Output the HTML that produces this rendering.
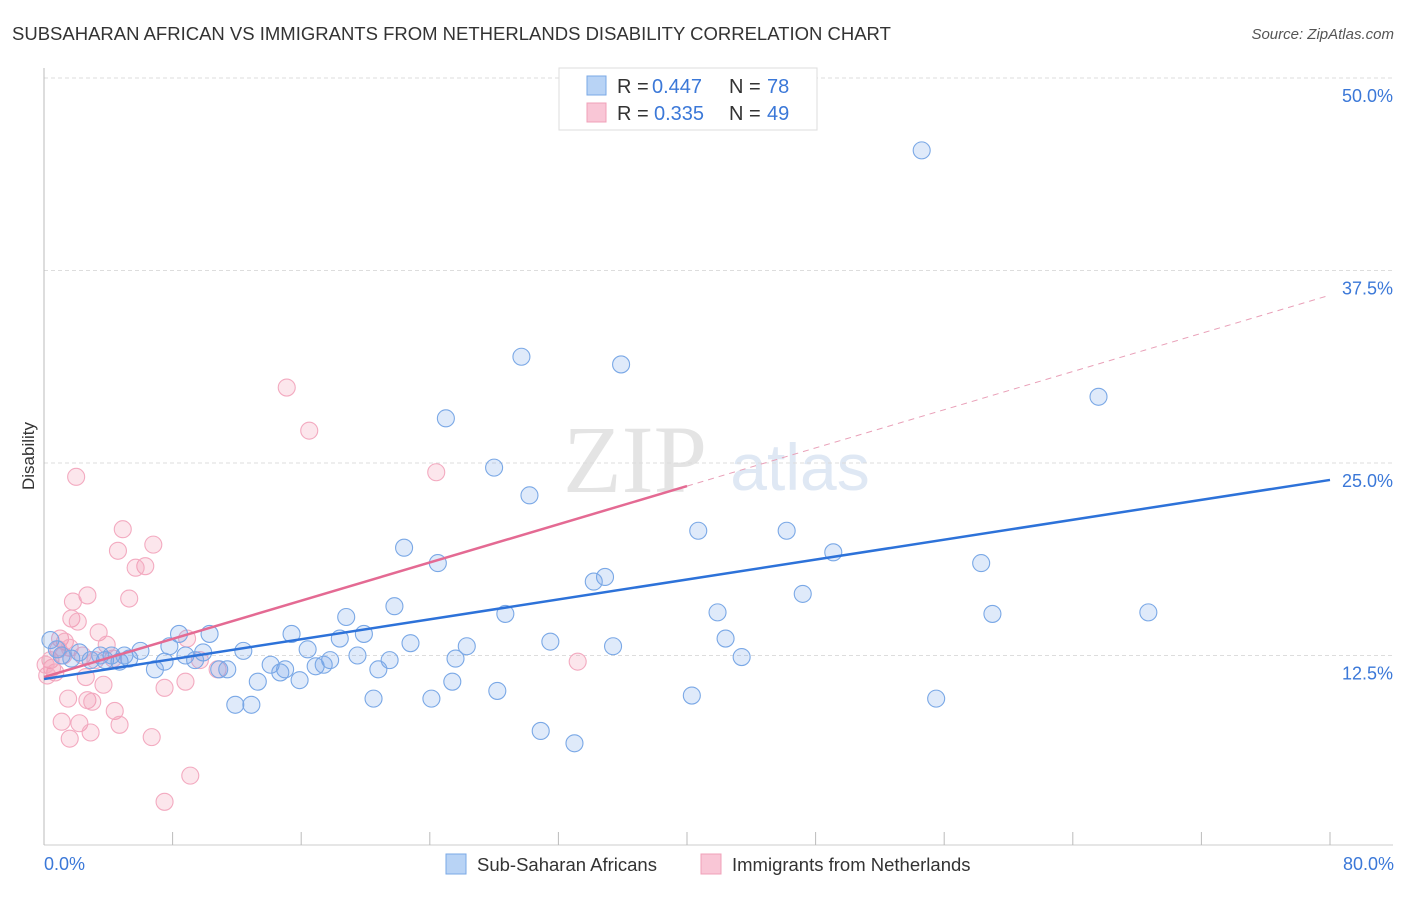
<!DOCTYPE html>
<html><head><meta charset="utf-8"><style>
body{margin:0;background:#fff;font-family:"Liberation Sans",sans-serif}
</style></head><body>
<svg id="c" width="1406" height="892" xmlns="http://www.w3.org/2000/svg" style="font-family:'Liberation Sans',sans-serif">
<text x="12" y="40" font-size="18.5" fill="#333">SUBSAHARAN AFRICAN VS IMMIGRANTS FROM NETHERLANDS DISABILITY CORRELATION CHART</text>
<text x="1394" y="39" font-size="15" fill="#555" font-style="italic" text-anchor="end">Source: ZipAtlas.com</text>
<text x="635" y="492" font-size="96" fill="#e4e4e4" font-family="Liberation Serif" text-anchor="middle">ZIP</text>
<text x="800" y="490" font-size="66" fill="#dfe8f4" text-anchor="middle">atlas</text>
<g id="grid"></g><g id="axes"></g><g id="pink"></g><g id="blue"></g><g id="lines"></g>
<text transform="translate(34,456) rotate(-90)" font-size="17" fill="#333" text-anchor="middle">Disability</text>
<text x="44" y="870" font-size="18" fill="#3b78d8">0.0%</text>
<text x="1394" y="870" font-size="18" fill="#3b78d8" text-anchor="end">80.0%</text>
<g>
<rect x="559" y="68" width="258" height="62" fill="#fff" stroke="#ddd"/>
<rect x="587" y="76" width="19" height="19" fill="#b8d3f5" stroke="#7aa8e6"/>
<rect x="587" y="103" width="19" height="19" fill="#f9c6d6" stroke="#f0a0b8"/>
<text y="93" font-size="20" fill="#333"><tspan x="617">R =</tspan><tspan x="652" fill="#3b78d8">0.447</tspan><tspan x="729">N =</tspan><tspan x="767" fill="#3b78d8">78</tspan></text>
<text y="120" font-size="20" fill="#333"><tspan x="617">R =</tspan><tspan x="654" fill="#3b78d8">0.335</tspan><tspan x="729">N =</tspan><tspan x="767" fill="#3b78d8">49</tspan></text>
</g>
<g>
<rect x="446" y="854" width="20" height="20" fill="#b8d3f5" stroke="#7aa8e6"/>
<text x="477" y="871" font-size="18.5" fill="#333">Sub-Saharan Africans</text>
<rect x="701" y="854" width="20" height="20" fill="#f9c6d6" stroke="#f0a0b8"/>
<text x="732" y="871" font-size="18.5" fill="#333">Immigrants from Netherlands</text>
</g>
</svg>
<script>
const yTicks=[50,37.5,25,12.5];
const yTickLabels=["50.0%","37.5%","25.0%","12.5%"];
const xTicks=[0,8,16,24,32,40,48,56,64,72,80];
const blueX=[54.6,29.7,35.9,65.6,25.0,28.0,30.2,40.7,46.2,22.4,49.1,24.5,58.3,34.9,34.2,47.2,21.8,41.9,59.0,68.7,28.7,18.8,8.4,10.3,15.4,19.9,18.4,42.4,31.5,22.8,26.3,35.4,7.8,6.0,16.4,12.4,9.9,8.8,19.5,43.4,25.6,21.5,17.8,5.3,3.8,4.7,2.9,1.1,1.7,0.4,0.8,2.2,4.2,14.1,16.9,17.4,15.0,14.7,7.5,6.9,11.4,10.9,20.8,13.3,15.9,25.4,28.2,40.3,55.5,20.5,24.1,11.9,12.9,30.9,33.0,9.4,3.5,5.0];
const blueY=[45.3,31.9,31.4,29.3,27.9,24.7,22.9,20.6,20.6,19.5,19.2,18.5,18.5,17.6,17.3,16.5,15.7,15.3,15.2,15.3,15.2,15.0,13.9,13.9,13.9,13.9,13.6,13.6,13.4,13.3,13.1,13.1,13.1,12.8,12.9,12.8,12.7,12.5,12.5,12.4,12.3,12.2,12.2,12.3,12.2,12.1,12.2,12.5,12.3,13.5,12.9,12.7,12.5,11.9,11.8,11.9,11.6,11.4,12.1,11.6,11.6,11.6,11.6,10.8,10.9,10.8,10.2,9.9,9.7,9.7,9.7,9.3,9.3,7.6,6.8,12.2,12.5,12.5];
const pinkX=[15.1,16.5,24.4,2.0,4.9,6.8,4.6,6.3,5.7,2.7,5.3,1.8,1.7,2.1,3.4,1.0,1.3,3.9,8.9,4.3,33.2,10.8,2.6,3.7,8.8,7.5,1.5,2.7,3.0,4.4,1.1,2.2,4.7,2.9,1.6,6.7,9.1,7.5,0.4,0.5,0.7,0.2,0.9,1.2,1.6,0.1,2.4,3.2,9.7];
const pinkY=[29.9,27.1,24.4,24.1,20.7,19.7,19.3,18.3,18.2,16.4,16.2,16.0,14.9,14.7,14.0,13.6,13.4,13.2,13.6,12.3,12.1,11.6,11.1,10.6,10.8,10.4,9.7,9.6,9.5,8.9,8.2,8.1,8.0,7.5,7.1,7.2,4.7,3.0,12.2,11.7,11.4,11.2,12.9,12.5,13.0,11.9,12.5,12.2,12.2];
const blueFit=[10.97,23.9];
const pinkFit=[11.1,35.9];
const pinkSolidEnd=40;
const NS="http://www.w3.org/2000/svg";
const X=v=>44+v*16.075, Y=v=>848-v*15.4;
function mk(t,a,p){const e=document.createElementNS(NS,t);for(const k in a)e.setAttribute(k,a[k]);document.getElementById(p).appendChild(e);return e;}
yTicks.forEach((t,i)=>{
 const g=mk('line',{x1:44,x2:1393,y1:Y(t),y2:Y(t),stroke:'#ddd','stroke-dasharray':'4,3'},'grid');
 
 
 const l=mk('text',{x:1393,y:Y(t)+24,'font-size':18,fill:'#3b78d8','text-anchor':'end'},'grid');
 l.textContent=yTickLabels[i];
 
 
});
let a=mk('line',{x1:44,x2:44,y1:68,y2:845,stroke:'#bbb'},'axes');


a=mk('line',{x1:44,x2:1393,y1:845,y2:845,stroke:'#ccc'},'axes');


xTicks.forEach(t=>{const e=mk('line',{x1:X(t),x2:X(t),y1:832,y2:845,stroke:'#bbb'},'axes');
 
 });
pinkX.forEach((v,i)=>{const c=mk('circle',{cx:X(v),cy:Y(pinkY[i]),r:8.5,fill:'rgba(240,140,170,0.22)',stroke:'#f3aac0','stroke-width':1.1},'pink');
 
 });
blueX.forEach((v,i)=>{const c=mk('circle',{cx:X(v),cy:Y(blueY[i]),r:8.5,fill:'rgba(110,160,230,0.22)',stroke:'#7aa8e6','stroke-width':1.1},'blue');
 
 });
const pAt=x=>pinkFit[0]+(pinkFit[1]-pinkFit[0])*x/80;
let ln=mk('line',{x1:X(0),y1:Y(pinkFit[0]),x2:X(pinkSolidEnd),y2:Y(pAt(pinkSolidEnd)),stroke:'#e46a93','stroke-width':2.5},'lines');


ln=mk('line',{x1:X(pinkSolidEnd),y1:Y(pAt(pinkSolidEnd)),x2:X(80),y2:Y(pinkFit[1]),stroke:'#e9a0b8','stroke-width':1,'stroke-dasharray':'6,5'},'lines');


ln=mk('line',{x1:X(0),y1:Y(blueFit[0]),x2:X(80),y2:Y(blueFit[1]),stroke:'#2d72d9','stroke-width':2.5},'lines');


</script>
</body></html>
